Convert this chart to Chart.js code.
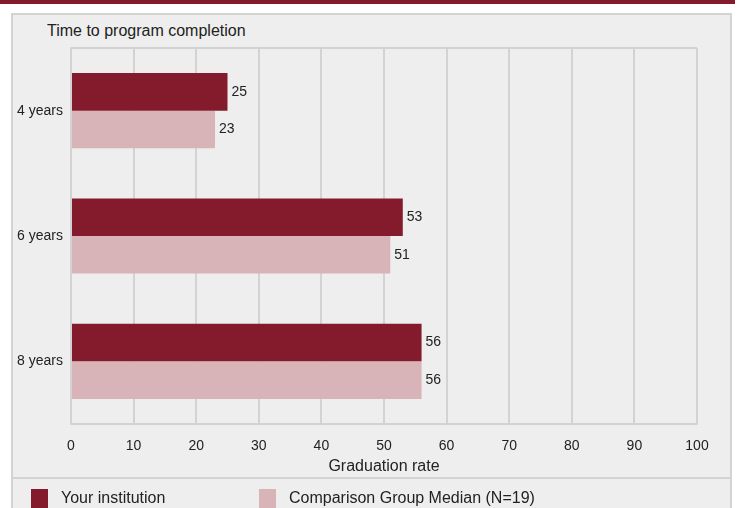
<!DOCTYPE html>
<html>
<head>
<meta charset="utf-8">
<script src="https://cdn.jsdelivr.net/npm/chart.js@4.4.0/dist/chart.umd.min.js"></script>
<style>
  body { margin: 0; background: #fff; font-family: "Liberation Sans", Arial, sans-serif; }
  #wrap { position: relative; width: 742px; height: 508px; overflow: hidden; }
  #band { position: absolute; left: 0; top: 0; width: 735px; height: 4px; background: #841b2d; }
  #panel { position: absolute; left: 11px; top: 13px; width: 717px; height: 520px;
           background: #eeeeee; border: 2px solid #d3d3d3; }
  #sep { position: absolute; left: 11px; top: 477px; width: 721px; height: 2px; background: #d3d3d3; }
  #title { position: absolute; left: 47px; top: 22px; font-size: 16px; color: #222; }
  #chart { position: absolute; left: 0; top: 0; }
  #legend { position: absolute; left: 0; top: 489px; width: 742px; font-size: 16px; color: #222; }
  .item { position: absolute; top: 0; }
  .box { position: absolute; left: 0; top: 0; width: 17px; height: 24px; }
  .lbl { position: absolute; left: 30px; top: 0; white-space: nowrap; }
</style>
</head>
<body>
<div id="wrap">
  <div id="band"></div>
  <div id="panel"></div>
  <div id="sep"></div>
  <div id="title">Time to program completion</div>
  <canvas id="chart" width="742" height="508"></canvas>
  <div id="legend"></div>
</div>
<script>
const categories = ["4 years", "6 years", "8 years"];
const yourInstitution = [25, 53, 56];
const comparisonMedian = [23, 51, 56];
const seriesNames = ["Your institution", "Comparison Group Median (N=19)"];
const xTicks = [0, 10, 20, 30, 40, 50, 60, 70, 80, 90, 100];

const darkRed = "#841b2d";
const pink = "#d8b3b8";
const gridColor = "#d3d3d3";
const fontFamily = "'Liberation Sans', Arial, sans-serif";

const valueLabels = {
  id: "valueLabels",
  afterDatasetsDraw(chart) {
    const ctx = chart.ctx;
    ctx.save();
    ctx.font = "14px " + fontFamily;
    ctx.fillStyle = "#222";
    ctx.textBaseline = "middle";
    ctx.textAlign = "left";
    chart.data.datasets.forEach((ds, i) => {
      chart.getDatasetMeta(i).data.forEach((bar, j) => {
        ctx.fillText(ds.data[j], bar.x + 4, bar.y);
      });
    });
    ctx.restore();
  }
};

const topLine = {
  id: "topLine",
  beforeDatasetsDraw(chart) {
    const { ctx, chartArea } = chart;
    ctx.save();
    ctx.strokeStyle = gridColor;
    ctx.lineWidth = 2;
    ctx.beginPath();
    ctx.moveTo(chartArea.left, chartArea.top);
    ctx.lineTo(chartArea.right, chartArea.top);
    ctx.stroke();
    ctx.restore();
  }
};

new Chart(document.getElementById("chart"), {
  type: "bar",
  data: {
    labels: categories,
    datasets: [
      { label: seriesNames[0], data: yourInstitution, backgroundColor: darkRed,
        categoryPercentage: 0.6, barPercentage: 1.0 },
      { label: seriesNames[1], data: comparisonMedian, backgroundColor: pink,
        categoryPercentage: 0.6, barPercentage: 1.0 }
    ]
  },
  options: {
    indexAxis: "y",
    responsive: false,
    animation: false,
    layout: { padding: { top: 48, right: 45, bottom: 32, left: 0 } },
    plugins: {
      legend: { display: false },
      tooltip: { enabled: false }
    },
    scales: {
      x: {
        min: 0,
        max: 100,
        afterBuildTicks(scale) { scale.ticks = xTicks.map(v => ({ value: v })); },
        afterFit(scale) { scale.height = 52; },
        grid: { color: gridColor, lineWidth: 2, drawTicks: false },
        border: { color: gridColor, width: 2 },
        ticks: { padding: 14, color: "#222", font: { size: 14, family: fontFamily } },
        title: { display: true, text: "Graduation rate", color: "#222", padding: { top: 0, bottom: 0 },
                 font: { size: 16, family: fontFamily } }
      },
      y: {
        afterFit(scale) { scale.width = 71; },
        grid: { display: false, drawTicks: false },
        border: { color: gridColor, width: 2 },
        ticks: { padding: 8, color: "#222", font: { size: 14, family: fontFamily } }
      }
    }
  },
  plugins: [topLine, valueLabels]
});

// legend built from the dataset names and colours
const legend = document.getElementById("legend");
[[seriesNames[0], darkRed, 31], [seriesNames[1], pink, 259]].forEach(([name, color, x]) => {
  const item = document.createElement("div");
  item.className = "item";
  item.style.left = x + "px";
  item.innerHTML = `<div class="box" style="background:${color}"></div><div class="lbl">${name}</div>`;
  legend.appendChild(item);
});
</script>
</body>
</html>
